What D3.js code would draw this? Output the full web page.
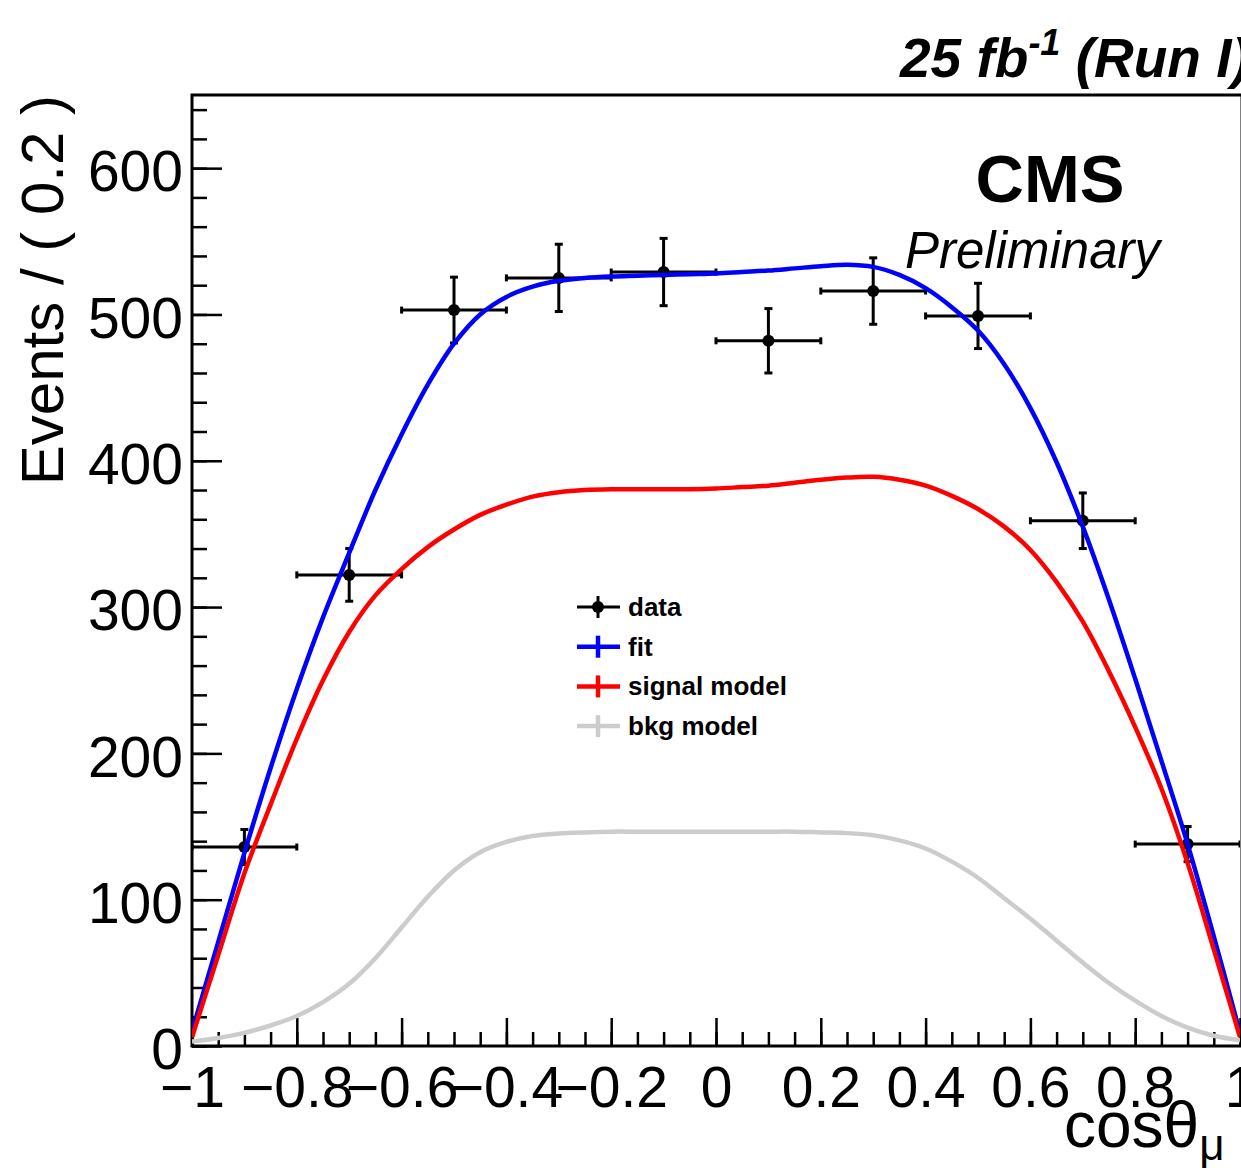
<!DOCTYPE html>
<html lang="en">
<head>
    <meta charset="UTF-8">
    <title>cos theta mu fit</title>
    <script src="https://d3js.org/d3.v7.min.js"></script>
    <style>
        body {
            margin: 0;
            background: #fff;
        }
        svg {
            display: block;
            font-family: "Liberation Sans", Arial, Helvetica, sans-serif;
        }
        .tick text {
            font-size: 57px;
            fill: #000;
        }
        .legend text {
            font-size: 26px;
            font-weight: bold;
        }
    </style>
</head>
<body>
    <svg id="chart" width="1241" height="1168"></svg>

    <script>
        // binned data
        const binCentres = [-0.9, -0.7, -0.5, -0.3, -0.1, 0.1, 0.3, 0.5, 0.7, 0.9];
        const binHalf = 0.1;
        const counts = [136, 322, 503, 525, 529, 482, 516, 499, 359, 138];
        const errors = [12, 18, 22.5, 23, 23, 22, 22.7, 22.3, 19, 12];

        // curves sampled on a common grid
        const cosGrid = [-1, -0.95, -0.9, -0.85, -0.8, -0.75, -0.7, -0.65, -0.6, -0.55, -0.5,
            -0.45, -0.4, -0.35, -0.3, -0.25, -0.2, -0.15, -0.1, -0.05, 0,
            0.05, 0.1, 0.15, 0.2, 0.25, 0.3, 0.35, 0.4, 0.45, 0.5,
            0.55, 0.6, 0.65, 0.7, 0.75, 0.8, 0.85, 0.9, 0.95, 1];
        const fitCurve = [10, 71, 132, 190, 244, 293, 337, 380, 418, 452, 480,
            500, 512, 519, 523, 525, 526, 526.5, 527, 527.5, 528,
            529, 530, 531.5, 533, 534, 532.5, 527, 518, 505, 489,
            466, 436, 399, 355, 305, 251, 195, 138, 75, 9];
        const sigCurve = [6, 62, 118, 165, 210, 250, 283, 308, 326, 341, 353,
            363, 370, 375.5, 378.5, 380, 380.5, 380.5, 380.5, 380.5, 381,
            382, 383, 385, 387, 388.5, 389, 387, 383, 376, 367,
            355, 339, 317, 290, 256, 218, 176, 125, 66, 6];
        const bkgCurve = [3, 5.5, 9, 14, 20.5, 30, 42.5, 60, 81, 102, 120,
            132.5, 139.5, 143.5, 145.2, 146, 146.5, 146.5, 146.5, 146.5, 146.5,
            146.5, 146.5, 146.5, 146, 145.5, 144, 140.5, 135, 126, 115,
            101, 87, 72, 57, 43, 31, 20.5, 12.5, 7, 4];

        const xMajor = [-1, -0.8, -0.6, -0.4, -0.2, 0, 0.2, 0.4, 0.6, 0.8, 1];
        const xLabels = ["\u22121", "\u22120.8", "\u22120.6", "\u22120.4", "\u22120.2", "0", "0.2", "0.4", "0.6", "0.8", "1"];
        const yMajor = [0, 100, 200, 300, 400, 500, 600];

        const legendItems = [
            { label: "data", color: "#000" },
            { label: "fit", color: "#0000ff" },
            { label: "signal model", color: "#ff0000" },
            { label: "bkg model", color: "#cccccc" }
        ];

        const svg = d3.select("#chart");
        const plotLeft = 192, plotRight = 1240, plotTop = 95, plotBottom = 1046;

        const x = d3.scaleLinear().domain([-1, 1]).range([plotLeft, plotRight]);
        const y = d3.scaleLinear().domain([0, 650]).range([plotBottom, plotTop]);

        svg.append("defs").append("clipPath").attr("id", "plotClip")
            .append("rect")
            .attr("x", plotLeft).attr("y", plotTop)
            .attr("width", plotRight - plotLeft).attr("height", plotBottom - plotTop);

        // minor ticks
        const xMinor = d3.range(-20, 21).map(i => i * 0.05);
        const yMinor = d3.range(0, 33).map(i => i * 20);

        svg.append("g")
            .attr("transform", `translate(0,${plotBottom})`)
            .call(d3.axisBottom(x).tickValues(xMinor).tickSize(-14).tickFormat(""))
            .call(g => g.select(".domain").remove())
            .selectAll("line").attr("stroke-width", 2.5);

        svg.append("g")
            .attr("transform", `translate(${plotLeft},0)`)
            .call(d3.axisLeft(y).tickValues(yMinor).tickSize(-15).tickFormat(""))
            .call(g => g.select(".domain").remove())
            .selectAll("line").attr("stroke-width", 2.5);

        // major ticks + labels
        const xAxis = svg.append("g")
            .attr("transform", `translate(0,${plotBottom})`)
            .call(d3.axisBottom(x).tickValues(xMajor).tickSize(-28).tickPadding(21)
                .tickFormat((d, i) => xLabels[i]));
        xAxis.select(".domain").remove();
        xAxis.selectAll("line").attr("stroke-width", 2.5);

        const yAxis = svg.append("g")
            .attr("transform", `translate(${plotLeft},0)`)
            .call(d3.axisLeft(y).tickValues(yMajor).tickSize(-30).tickPadding(9)
                .tickFormat(d3.format("d")));
        yAxis.select(".domain").remove();
        yAxis.selectAll("line").attr("stroke-width", 2.5);
        yAxis.selectAll("text").attr("dy", "0.4em");

        // frame
        svg.append("rect")
            .attr("x", plotLeft).attr("y", plotTop)
            .attr("width", plotRight - plotLeft + 2).attr("height", plotBottom - plotTop)
            .attr("fill", "none")
            .attr("stroke", "#000")
            .attr("stroke-width", 3);

        // data points with error bars
        const pts = svg.append("g").attr("clip-path", "url(#plotClip)");
        binCentres.forEach((c, i) => {
            const cx = x(c), cy = y(counts[i]);
            const x0 = x(c - binHalf), x1 = x(c + binHalf);
            const yTop = y(counts[i] + errors[i]), yBot = y(counts[i] - errors[i]);
            const g = pts.append("g").attr("stroke", "#000").attr("stroke-width", 3);
            g.append("line").attr("x1", x0).attr("x2", x1).attr("y1", cy).attr("y2", cy);
            g.append("line").attr("x1", cx).attr("x2", cx).attr("y1", yTop).attr("y2", yBot);
            g.append("line").attr("x1", x0).attr("x2", x0).attr("y1", cy - 3.5).attr("y2", cy + 3.5);
            g.append("line").attr("x1", x1).attr("x2", x1).attr("y1", cy - 3.5).attr("y2", cy + 3.5);
            g.append("line").attr("x1", cx - 4).attr("x2", cx + 4).attr("y1", yTop).attr("y2", yTop);
            g.append("line").attr("x1", cx - 4).attr("x2", cx + 4).attr("y1", yBot).attr("y2", yBot);
            pts.append("circle").attr("cx", cx).attr("cy", cy).attr("r", 6).attr("fill", "#000");
        });

        // model curves
        const line = d3.line()
            .x(d => x(d[0]))
            .y(d => y(d[1]))
            .curve(d3.curveCatmullRom.alpha(0.5));

        const curves = svg.append("g").attr("clip-path", "url(#plotClip)");
        [[fitCurve, "#0000ff"], [sigCurve, "#ff0000"], [bkgCurve, "#cccccc"]].forEach(([vals, col]) => {
            curves.append("path")
                .datum(cosGrid.map((c, i) => [c, vals[i]]))
                .attr("d", line)
                .attr("fill", "none")
                .attr("stroke", col)
                .attr("stroke-width", 4.5);
        });

        // legend
        const legend = svg.append("g").attr("class", "legend");
        legendItems.forEach((item, i) => {
            const ly = 607 + i * 39.7;
            const g = legend.append("g");
            const w = i === 0 ? 3 : 4.5;
            g.append("line").attr("x1", 577).attr("x2", 620).attr("y1", ly).attr("y2", ly)
                .attr("stroke", item.color).attr("stroke-width", w);
            g.append("line").attr("x1", 598).attr("x2", 598).attr("y1", ly - 11).attr("y2", ly + 11)
                .attr("stroke", item.color).attr("stroke-width", w);
            if (i === 0) g.append("circle").attr("cx", 598).attr("cy", ly).attr("r", 6).attr("fill", "#000");
            g.append("text").attr("x", 628).attr("y", ly + 9).text(item.label);
        });

        // axis titles
        svg.append("text")
            .attr("transform", "translate(63,95) rotate(-90)")
            .attr("text-anchor", "end")
            .attr("font-size", 60)
            .text("Events / ( 0.2 )");

        const xt = svg.append("text")
            .attr("x", 1064).attr("y", 1147)
            .attr("font-size", 64);
        xt.append("tspan").text("cos\u03b8");
        xt.append("tspan").attr("dy", 13).attr("font-size", 44).text("\u03bc");

        // labels
        const lumi = svg.append("text")
            .attr("x", 900).attr("y", 77)
            .attr("font-size", 55)
            .attr("font-weight", "bold")
            .attr("font-style", "italic");
        lumi.append("tspan").text("25 fb");
        lumi.append("tspan").attr("dy", -22).attr("font-size", 36).text("-1");
        lumi.append("tspan").attr("dy", 22).text(" (Run I)");

        svg.append("text")
            .attr("x", 1050).attr("y", 202)
            .attr("text-anchor", "middle")
            .attr("font-size", 67)
            .attr("font-weight", "bold")
            .text("CMS");

        svg.append("text")
            .attr("x", 905).attr("y", 268)
            .attr("font-size", 51)
            .attr("font-style", "italic")
            .text("Preliminary");
    </script>
</body>
</html>
